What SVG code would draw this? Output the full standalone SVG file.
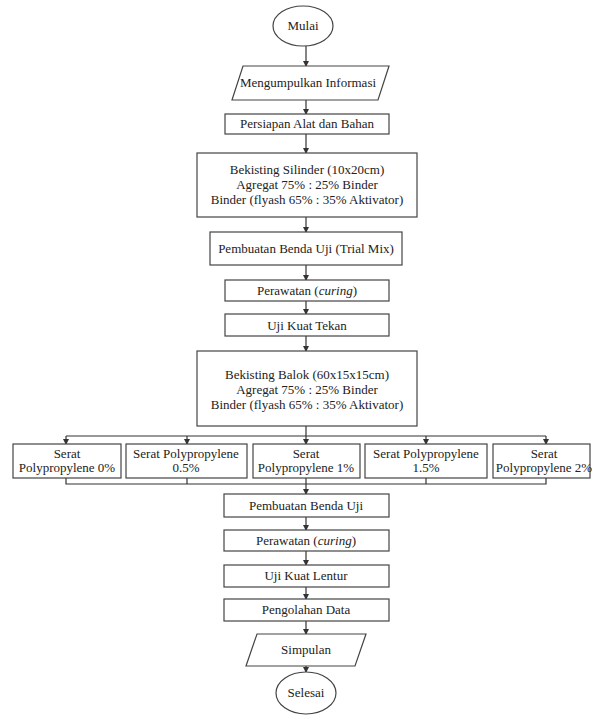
<svg xmlns="http://www.w3.org/2000/svg" width="594" height="716" viewBox="0 0 594 716">
<defs>
<marker id="ah" markerWidth="6" markerHeight="6" refX="5" refY="3" orient="auto" markerUnits="userSpaceOnUse">
<path d="M0,0 L6,3 L0,6 z" fill="#333"/>
</marker>
<style>
.n{fill:#fff;stroke:#444;stroke-width:1.2}
.t{font-family:"Liberation Serif","Times New Roman",serif;font-size:13px;fill:#222;text-anchor:middle}
.c{fill:none;stroke:#333;stroke-width:1.2}
.a{fill:none;stroke:#333;stroke-width:1.2;marker-end:url(#ah)}
</style>
</defs>
<rect width="594" height="716" fill="#fff"/>
<g id="connectors">
<line class="a" x1="306" y1="46" x2="306" y2="66"/>
<line class="a" x1="306" y1="100" x2="306" y2="114"/>
<line class="a" x1="306" y1="134" x2="306" y2="153"/>
<line class="a" x1="306" y1="217" x2="306" y2="232"/>
<line class="a" x1="306" y1="265" x2="306" y2="280"/>
<line class="a" x1="306" y1="301" x2="306" y2="314"/>
<line class="a" x1="306" y1="336" x2="306" y2="351"/>
<line class="c" x1="306" y1="426" x2="306" y2="436"/>
<line class="c" x1="66" y1="436" x2="546" y2="436"/>
<line class="a" x1="66" y1="436" x2="66" y2="444"/>
<line class="a" x1="187" y1="436" x2="187" y2="444"/>
<line class="a" x1="306" y1="436" x2="306" y2="444"/>
<line class="a" x1="426" y1="436" x2="426" y2="444"/>
<line class="a" x1="546" y1="436" x2="546" y2="444"/>
<polyline class="c" points="66,478 66,484 546,484 546,478"/>
<line class="c" x1="187" y1="478" x2="187" y2="484"/>
<line class="c" x1="426" y1="478" x2="426" y2="484"/>
<line class="a" x1="306" y1="478" x2="306" y2="494"/>
<line class="a" x1="306" y1="517" x2="306" y2="530"/>
<line class="a" x1="306" y1="551" x2="306" y2="565"/>
<line class="a" x1="306" y1="587" x2="306" y2="599"/>
<line class="a" x1="306" y1="621" x2="306" y2="634"/>
<line class="a" x1="306" y1="666" x2="306" y2="672"/>
</g>
<g id="mulai"><ellipse class="n" cx="303" cy="26" rx="30" ry="20"/><text class="t" x="303" y="30">Mulai</text></g>
<g id="informasi"><polygon class="n" points="243,66 389,66 378,100 232,100"/><text class="t" x="308" y="87">Mengumpulkan Informasi</text></g>
<g id="persiapan"><rect class="n" x="225" y="114" width="164" height="20"/><text class="t" x="307" y="128">Persiapan Alat dan Bahan</text></g>
<g id="silinder"><rect class="n" x="197" y="153" width="220" height="64"/>
<text class="t" x="307" y="174">Bekisting Silinder (10x20cm)</text>
<text class="t" x="307" y="189">Agregat 75% : 25% Binder</text>
<text class="t" x="307" y="204">Binder (flyash 65% : 35% Aktivator)</text></g>
<g id="trialmix"><rect class="n" x="210" y="232" width="192" height="33"/><text class="t" x="306" y="253">Pembuatan Benda Uji (Trial Mix)</text></g>
<g id="perawatan1"><rect class="n" x="225" y="280" width="164" height="21"/><text class="t" x="307" y="295">Perawatan (<tspan font-style="italic">curing</tspan>)</text></g>
<g id="tekan"><rect class="n" x="225" y="314" width="164" height="22"/><text class="t" x="307" y="330">Uji Kuat Tekan</text></g>
<g id="balok"><rect class="n" x="197" y="351" width="220" height="75"/>
<text class="t" x="307" y="379">Bekisting Balok (60x15x15cm)</text>
<text class="t" x="307" y="394">Agregat 75% : 25% Binder</text>
<text class="t" x="307" y="409">Binder (flyash 65% : 35% Aktivator)</text></g>
<g id="pp0"><rect class="n" x="13" y="444" width="108" height="34"/><text class="t" x="67" y="458">Serat</text><text class="t" x="67" y="472">Polypropylene 0%</text></g>
<g id="pp05"><rect class="n" x="126" y="444" width="121" height="34"/><text class="t" x="186" y="458">Serat Polypropylene</text><text class="t" x="186" y="472">0.5%</text></g>
<g id="pp1"><rect class="n" x="253" y="444" width="107" height="34"/><text class="t" x="306" y="458">Serat</text><text class="t" x="306" y="472">Polypropylene 1%</text></g>
<g id="pp15"><rect class="n" x="365" y="444" width="122" height="34"/><text class="t" x="426" y="458">Serat Polypropylene</text><text class="t" x="426" y="472">1.5%</text></g>
<g id="pp2"><rect class="n" x="493" y="444" width="97" height="34"/><text class="t" x="544" y="458">Serat</text><text class="t" x="544" y="472">Polypropylene 2%</text></g>
<g id="bendauji"><rect class="n" x="224" y="494" width="165" height="23"/><text class="t" x="306" y="510">Pembuatan Benda Uji</text></g>
<g id="perawatan2"><rect class="n" x="224" y="530" width="165" height="21"/><text class="t" x="306" y="545">Perawatan (<tspan font-style="italic">curing</tspan>)</text></g>
<g id="lentur"><rect class="n" x="224" y="565" width="165" height="22"/><text class="t" x="306" y="580">Uji Kuat Lentur</text></g>
<g id="olah"><rect class="n" x="224" y="599" width="165" height="22"/><text class="t" x="306" y="614">Pengolahan Data</text></g>
<g id="simpulan"><polygon class="n" points="257,634 366,634 355,666 246,666"/><text class="t" x="306" y="654">Simpulan</text></g>
<g id="selesai"><ellipse class="n" cx="306" cy="693" rx="30" ry="21"/><text class="t" x="306" y="697">Selesai</text></g>
</svg>
